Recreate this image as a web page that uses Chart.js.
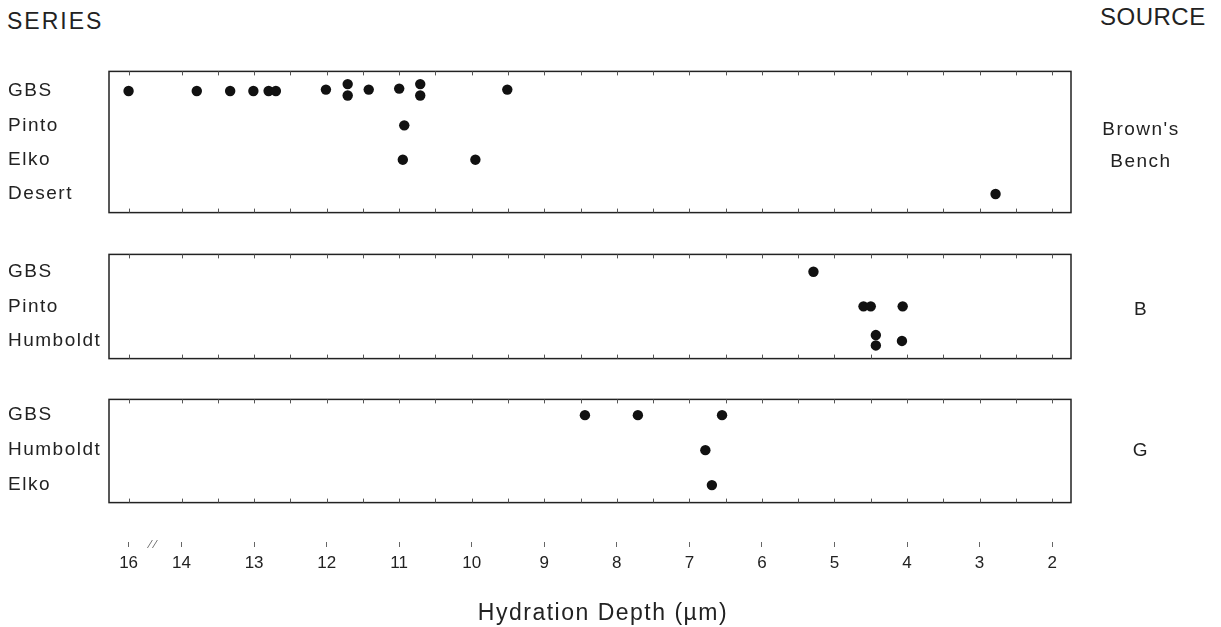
<!DOCTYPE html>
<html>
<head>
<meta charset="utf-8">
<script src="https://cdn.jsdelivr.net/npm/chart.js@4.4.1/dist/chart.umd.min.js"></script>
<style>
  body { margin: 0; background: #fff; width: 1221px; height: 627px; position: relative; overflow: hidden;
         font-family: "Liberation Sans", Arial, sans-serif; color: #222; }
  canvas { position: absolute; left: 0; }
  .lbl { position: absolute; white-space: nowrap; z-index: 2; }
  #series { left: 7px; top: 10px; font-size: 23px; line-height: 23px; letter-spacing: 2px; }
  #source { left: 1100px; top: 5px; font-size: 24px; line-height: 24px; letter-spacing: 0.5px; }
  .src { left: 1081px; width: 120px; text-align: center; font-size: 19px; line-height: 32px; letter-spacing: 1.5px; }
</style>
</head>
<body>
<div class="lbl" id="series">SERIES</div>
<div class="lbl" id="source">SOURCE</div>
<div class="lbl src" style="top:113px">Brown's<br>Bench</div>
<div class="lbl src" style="top:293px">B</div>
<div class="lbl src" style="top:434px">G</div>

<canvas id="p1" width="1221" height="164" style="top:60px"></canvas>
<canvas id="p2" width="1221" height="127" style="top:243px"></canvas>
<canvas id="p3" width="1221" height="126" style="top:388px"></canvas>
<canvas id="axis" width="1221" height="97" style="top:530px"></canvas>

<script>
// hydration depths (µm)
const xTickLabels = [16, 14, 13, 12, 11, 10, 9, 8, 7, 6, 5, 4, 3, 2];
const frameTicks = [16, 14, 13.5, 13, 12.5, 12, 11.5, 11, 10.5, 10, 9.5, 9, 8.5, 8,
                    7.5, 7, 6.5, 6, 5.5, 5, 4.5, 4, 3.5, 3, 2.5, 2];
const xTitle = 'Hydration Depth (µm)';

// Brown's Bench
const bbRows = ['GBS', 'Pinto', 'Elko', 'Desert'];
const bbGBS = [16, 13.79, 13.33, 13.01, 12.80, 12.70, 12.01, 11.71, 11.71, 11.42, 11.0, 10.71, 10.71, 9.51];
const bbGBSLift = [0, 0, 0, 0, 0, 0, -0.04, -0.2, 0.13, -0.04, -0.07, -0.2, 0.13, -0.04];
const bbPinto = [10.93];
const bbElko = [10.95, 9.95];
const bbDesert = [2.78];

// source B
const bRows = ['GBS', 'Pinto', 'Humboldt'];
const bGBS = [5.29];
const bPinto = [4.60, 4.50, 4.06];
const bHumboldt = [4.43, 4.43, 4.07];
const bHumboldtLift = [-0.17, 0.13, 0];

// source G
const gRows = ['GBS', 'Humboldt', 'Elko'];
const gGBS = [8.44, 7.71, 6.55];
const gHumboldt = [6.78];
const gElko = [6.69];

// axis is broken between 14 and 16
const BREAK = 14;
const breakMark = 15.1;
function axisX(v) {
    return v > BREAK ? BREAK + (v - BREAK) * 0.365 : v;
}
const X_MIN = 1.74, X_MAX = 15.0;
const FONT = '"Liberation Sans", Arial, sans-serif';

Chart.defaults.font.family = FONT;
Chart.defaults.color = '#222';

const framePlugin = {
    id: 'frame',
    beforeUpdate(chart) { chart.ctx.letterSpacing = '1.5px'; },
    beforeDraw(chart) { chart.ctx.letterSpacing = '1.5px'; },
    beforeDatasetsDraw(chart) {
        const {ctx, chartArea: a, scales: {x}} = chart;
        ctx.save();
        ctx.strokeStyle = '#222';
        ctx.lineWidth = 1.5;
        ctx.strokeRect(a.left, a.top, a.right - a.left, a.bottom - a.top);
        ctx.lineWidth = 1;
        ctx.strokeStyle = '#555';
        ctx.beginPath();
        frameTicks.forEach(v => {
            const px = Math.round(x.getPixelForValue(axisX(v))) + 0.5;
            ctx.moveTo(px, a.top); ctx.lineTo(px, a.top + 4);
            ctx.moveTo(px, a.bottom); ctx.lineTo(px, a.bottom - 4);
        });
        ctx.stroke();
        ctx.restore();
    }
};

function rowData(xs, row, lift) {
    return xs.map((v, i) => ({x: axisX(v), y: row + (lift ? lift[i] : 0)}));
}

function makePanel(id, rows, series, yMin, yMax) {
    return new Chart(document.getElementById(id), {
        type: 'scatter',
        data: {
            datasets: series.map((s, i) => ({
                label: rows[i],
                data: rowData(s[0], i, s[1]),
                pointRadius: 5.2,
                pointHoverRadius: 5.2,
                backgroundColor: '#111',
                borderWidth: 0
            }))
        },
        options: {
            responsive: false,
            animation: false,
            layout: {padding: {top: 9, bottom: 9, left: 8, right: 150}},
            plugins: {legend: {display: false}, tooltip: {enabled: false}},
            scales: {
                x: {type: 'linear', reverse: true, min: X_MIN, max: X_MAX, display: false},
                y: {
                    type: 'linear', reverse: true, min: yMin, max: yMax,
                    afterBuildTicks: s => { s.ticks = rows.map((r, i) => ({value: i})); },
                    afterFit: s => { s.width = 101; },
                    grid: {display: false},
                    border: {display: false},
                    ticks: {
                        autoSkip: false, crossAlign: 'far', padding: 0,
                        color: '#222', font: {size: 19},
                        callback: (v, i) => rows[i]
                    }
                }
            }
        },
        plugins: [framePlugin]
    });
}

makePanel('p1', bbRows, [[bbGBS, bbGBSLift], [bbPinto], [bbElko], [bbDesert]], -0.57, 3.54);
makePanel('p2', bRows, [[bGBS], [bPinto], [bHumboldt, bHumboldtLift]], -0.5, 2.51);
makePanel('p3', gRows, [[gGBS], [gHumboldt], [gElko]], -0.45, 2.5);

const axisExtras = {
    id: 'axisExtras',
    afterDraw(chart) {
        const {ctx, scales: {x}, chartArea: a} = chart;
        const bx = x.getPixelForValue(axisX(breakMark));
        ctx.save();
        ctx.strokeStyle = '#777';
        ctx.lineWidth = 1;
        ctx.beginPath();
        [-2.5, 2.5].forEach(d => {
            ctx.moveTo(bx + d - 2.5, a.bottom + 6);
            ctx.lineTo(bx + d + 2.5, a.bottom - 2);
        });
        ctx.stroke();
        ctx.letterSpacing = '1.5px';
        ctx.font = '23px ' + FONT;
        ctx.fillStyle = '#222';
        ctx.textAlign = 'center';
        ctx.textBaseline = 'alphabetic';
        ctx.fillText(xTitle, (a.left + a.right) / 2 + 13, 90);
        ctx.restore();
    }
};

new Chart(document.getElementById('axis'), {
    type: 'scatter',
    data: {datasets: []},
    options: {
        responsive: false,
        animation: false,
        layout: {padding: {left: 109, right: 150, top: 0, bottom: 0}},
        plugins: {legend: {display: false}, tooltip: {enabled: false}},
        scales: {
            x: {
                type: 'linear', reverse: true, min: X_MIN, max: X_MAX,
                afterBuildTicks: s => { s.ticks = xTickLabels.map(v => ({value: axisX(v)})); },
                afterFit: s => { s.height = 85; },
                grid: {display: true, drawOnChartArea: false, drawTicks: true, tickLength: 5, color: '#666', lineWidth: 1},
                border: {display: false},
                ticks: {
                    autoSkip: false, maxRotation: 0, padding: 6,
                    color: '#222', font: {size: 17},
                    callback: (v, i) => String(xTickLabels[i])
                }
            },
            y: {display: false}
        }
    },
    plugins: [axisExtras]
});
</script>
</body>
</html>
